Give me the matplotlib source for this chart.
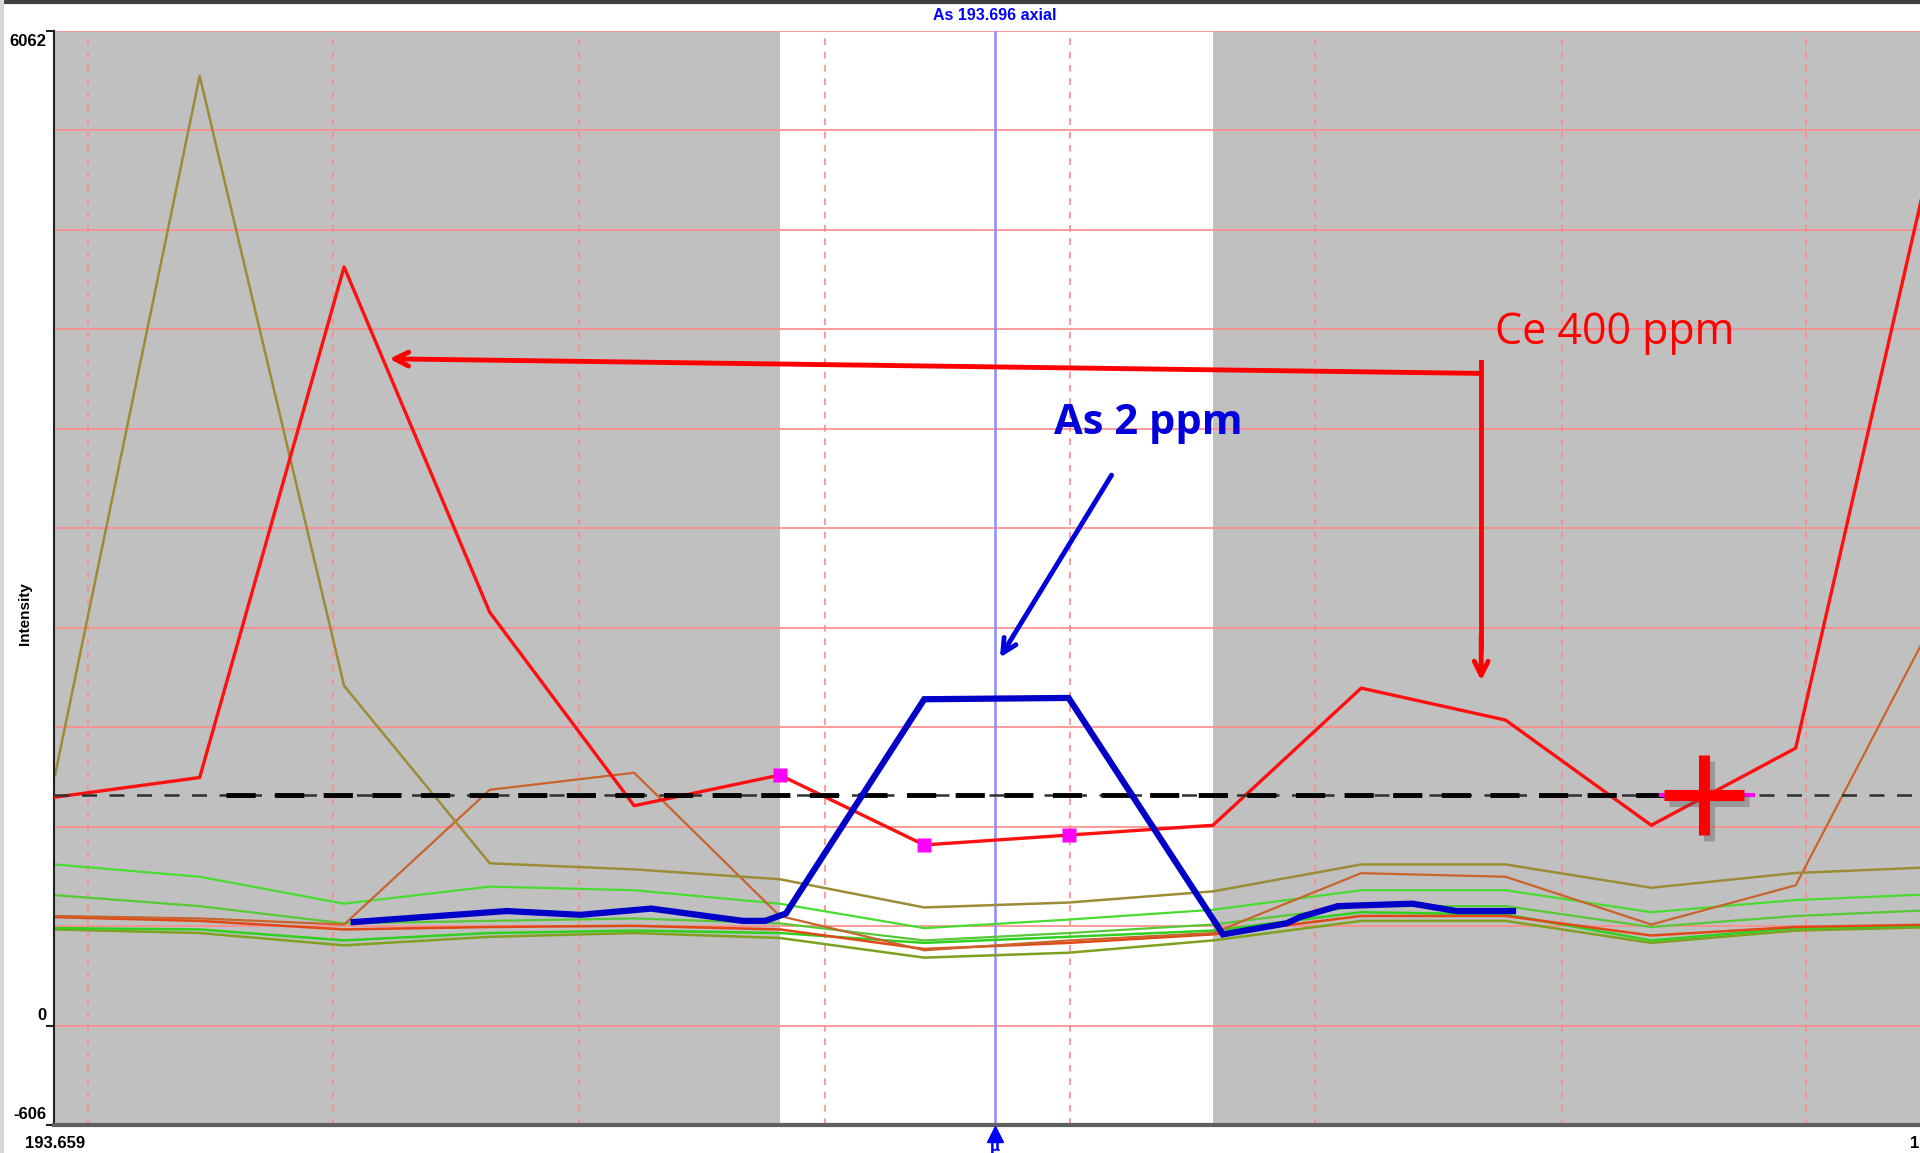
import matplotlib
matplotlib.use('Agg')
import matplotlib.pyplot as plt
import matplotlib.transforms as mtransforms

# wavelengths of the scan points (nm)
wl = [193.65904, 193.66473, 193.67041, 193.67614, 193.68182, 193.68755, 193.69323,
      193.69891, 193.70459, 193.71042, 193.71610, 193.72183, 193.72751, 193.73319]

# interfering / background spectra (intensity)
ce_400 = [1392, 1512, 4624, 2519, 1340, 1527, 1101, 1161, 1221, 2057, 1862, 1221, 1691, 5534]
tan_line = [1526, 5788, 2071, 989, 952, 892, 720, 750, 818, 982, 982, 840, 930, 967]
brown_line = [668, 653, 616, 1437, 1541, 668, 459, 519, 564, 929, 907, 616, 855, 2542]
green_1 = [982, 907, 743, 847, 825, 743, 594, 646, 706, 825, 825, 691, 765, 803]
green_2 = [795, 728, 623, 638, 653, 623, 519, 564, 616, 728, 728, 601, 668, 706]
red_2 = [661, 638, 586, 601, 608, 586, 467, 504, 556, 668, 668, 549, 601, 616]
green_3 = [594, 586, 519, 564, 579, 564, 504, 541, 579, 691, 677, 519, 594, 608]
olive_3 = [586, 564, 489, 541, 564, 534, 414, 444, 519, 638, 638, 504, 579, 601]

# As 2 ppm spectrum (own sampling)
as_wl = [193.67079, 193.67681, 193.67970, 193.68249, 193.68610, 193.68697, 193.68779,
         193.69323, 193.69891, 193.70498, 193.70748, 193.70801, 193.70950, 193.71244,
         193.71417, 193.71639]
as_2 = [631, 698, 675, 713, 638, 638, 683, 1989, 1997, 556, 623, 661, 728, 743, 698, 698]

# markers on the Ce spectrum
pink_idx = [5, 6, 7]

y_min, y_max = -606, 6062
x_min, x_max = 193.659, 193.7324
peak_wl = 193.696
window = (wl[5], wl[8])
baseline = 1407
vgrid = [193.66034, 193.66999, 193.67964, 193.68932, 193.69895, 193.70862, 193.71830, 193.72793]

fig = plt.figure(figsize=(19.2, 11.53), dpi=100)
ax = fig.add_axes([54 / 1920, 1 - 1125 / 1153, 1866 / 1920, 1094 / 1153])
ax.set_facecolor('#c0c0c0')
ax.set_xlim(x_min, x_max)
ax.set_ylim(y_min, y_max)

# white integration window
ax.axvspan(window[0], window[1], color='white', zorder=0.5, lw=0)

# grid
for k in range(-1, 11):
    ax.axhline(k * 606.2, color='#ff8a8a', lw=1.2, zorder=1)
for xv in vgrid:
    ax.axvline(xv, color='#ff8a8a', lw=1.2, ls=(0, (4, 4)), zorder=1)
ax.axvline(peak_wl, color='#8c8cff', lw=1.8, zorder=1.5)

# spectra
ax.plot(wl, olive_3, color='#80a020', lw=1.8, zorder=2)
ax.plot(wl, green_3, color='#30d020', lw=1.8, zorder=2)
ax.plot(wl, red_2, color='#e04818', lw=1.8, zorder=2)
ax.plot(wl, green_2, color='#58c838', lw=1.6, zorder=2)
ax.plot(wl, green_1, color='#48dc30', lw=1.6, zorder=2)
ax.plot(wl, brown_line, color='#c8642c', lw=1.6, zorder=2)
ax.plot(wl, tan_line, color='#9c8c38', lw=1.8, zorder=2)
ax.plot(wl, ce_400, color='#ff1010', lw=2.4, zorder=3)
ax.plot([wl[i] for i in pink_idx], [ce_400[i] for i in pink_idx], 's',
        color='#ff00ff', ms=10, mec='none', zorder=4)
ax.plot(as_wl, as_2, color='#0000c8', lw=4.5, zorder=4, solid_joinstyle='miter')

# baseline fit
ax.axhline(baseline, color='#303030', lw=1.8, ls=(0, (6, 5)), zorder=3.5)
ax.plot([193.66578, 193.7239], [baseline, baseline], color='black', lw=3.5,
        ls=(0, (6, 4)), zorder=3.6)
ax.plot([193.72221, 193.72582], [baseline, baseline], color='#ff00ff', lw=3, zorder=3.7)
ax.plot([193.7241], [baseline - 40], marker='+', color='#505050', ms=58, mew=8,
        alpha=0.35, zorder=3.8)
ax.plot([193.7239], [baseline], marker='+', color='#ff0000', ms=58, mew=8, zorder=3.9)

# annotations
red = '#ff0000'
ax.plot([193.71514, 193.71514], [4042, 2300], color=red, lw=3.5, zorder=6)
ax.annotate('', xy=(193.71514, 2086), xytext=(193.71514, 2400),
            arrowprops=dict(arrowstyle='->,head_length=1.0,head_width=0.5', color=red, lw=3.5),
            zorder=6)
ax.annotate('', xy=(193.67219, 4064), xytext=(193.71514, 3975),
            arrowprops=dict(arrowstyle='->,head_length=1.0,head_width=0.5', color=red, lw=3.5,
                            shrinkA=0, shrinkB=0), zorder=6)
ax.text(193.72038, 4221, 'Ce 400 ppm', color=red, fontsize=31, family='Open Sans',
        ha='center', va='center', zorder=6)
ax.annotate('', xy=(193.69621, 2243), xytext=(193.70060, 3355),
            arrowprops=dict(arrowstyle='->,head_length=1.0,head_width=0.5', color='#0000dd',
                            lw=3.5, shrinkA=0, shrinkB=0), zorder=6)
ax.text(193.70204, 3668, 'As 2 ppm', color='#0000dd', fontsize=30, family='Open Sans',
        weight='bold', ha='center', va='center', zorder=6)

# axes frame
for s in ['top', 'right']:
    ax.spines[s].set_visible(False)
ax.spines['left'].set_color('#202020')
ax.spines['left'].set_linewidth(1.5)
ax.spines['bottom'].set_color('#606060')
ax.spines['bottom'].set_linewidth(3)
ax.set_xticks([])
ax.set_yticks([y_max, 0, y_min])
ax.set_yticklabels([])
ax.tick_params(axis='y', length=6, width=1.5, color='#202020')

lab = dict(family='Liberation Sans', weight='bold', fontsize=12, color='black')
ytr = ax.get_yaxis_transform()
ax.text(-0.004, 6000, '6062', transform=ytr, ha='right', va='center', **lab)
ax.text(-0.004, 60, '0', transform=ytr, ha='right', va='center', **lab)
ax.text(-0.004, -545, '-606', transform=ytr, ha='right', va='center', **lab)
fig.text(25 / 1920, 1 - 1143 / 1153, '193.659', ha='left', va='center', **lab)
fig.text(1919 / 1920, 1 - 1143 / 1153, '1', ha='right', va='center', **lab)
fig.text(25 / 1920, 1 - 614 / 1153, 'Intensity', rotation=90, ha='center', va='center',
         family='Liberation Sans', weight='bold', fontsize=11)
fig.text(995 / 1920, 1 - 15 / 1153, 'As 193.696 axial', ha='center', va='center',
         family='Liberation Sans', weight='bold', fontsize=11.5, color='#0000ff')

# peak position marker under the axis
tri_tr = ax.get_xaxis_transform() + mtransforms.ScaledTranslation(0, -0.09, fig.dpi_scale_trans)
ax.plot([peak_wl], [0], transform=tri_tr, marker='^', color='#0000ff',
        ms=11, clip_on=False, zorder=7)
ax.annotate('\u03bc', xy=(peak_wl, 0), xycoords=ax.get_xaxis_transform(), xytext=(0, -16),
            textcoords='offset points', ha='center', va='center', color='#0000ff',
            fontsize=10, weight='bold', annotation_clip=False)

# window border at the top
fig.add_artist(plt.Line2D([0, 1], [1 - 1.5 / 1153, 1 - 1.5 / 1153], color='#404040', lw=3))
fig.add_artist(plt.Line2D([1.5 / 1920, 1.5 / 1920], [0, 1], color='#d8d8d8', lw=3))

fig.savefig('out.png', dpi=100)
